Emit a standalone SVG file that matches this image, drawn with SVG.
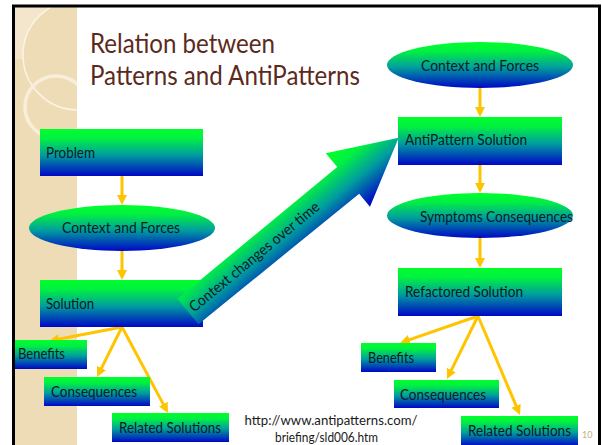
<svg xmlns="http://www.w3.org/2000/svg" width="602" height="445" viewBox="0 0 602 445">
<defs>
<style>
.t{font-family:Lato,"Open Sans","DejaVu Sans",sans-serif;font-size:15px;fill:#0B1B22}
.title{font-family:Lato,"Open Sans","DejaVu Sans",sans-serif;font-size:26px;fill:#5B2A1C}
.url{font-family:Lato,"Open Sans","DejaVu Sans",sans-serif;font-size:13.5px;fill:#1A1A1A}
.con{stroke:#FFC400;stroke-width:3;fill:none;marker-end:url(#ah)}
.n{fill:url(#g)}
</style>
<linearGradient id="g" x1="0" y1="0" x2="0" y2="1">
<stop offset="0" stop-color="#00FF2A"/>
<stop offset="0.2" stop-color="#00F042"/>
<stop offset="0.55" stop-color="#009E9E"/>
<stop offset="1" stop-color="#0006C6"/>
</linearGradient>
<linearGradient id="ga" gradientUnits="userSpaceOnUse" x1="0" y1="-30" x2="0" y2="33">
<stop offset="0" stop-color="#00FF2A"/>
<stop offset="0.2" stop-color="#00F042"/>
<stop offset="0.55" stop-color="#009E9E"/>
<stop offset="1" stop-color="#0006C6"/>
</linearGradient>
<marker id="ah" viewBox="0 0 10 10" refX="2" refY="5" markerWidth="10" markerHeight="10" markerUnits="userSpaceOnUse" orient="auto">
<path d="M0,0 L10,5 L0,10 z" fill="#FFC400"/>
</marker>
<clipPath id="side"><rect x="15" y="7" width="62" height="438"/></clipPath>
</defs>
<rect width="602" height="445" fill="#FFFFFF"/>
<g id="sidebar" clip-path="url(#side)">
<rect x="15" y="7" width="62" height="438" fill="#EEDCB6"/>
<rect x="15" y="7" width="62" height="52" fill="#F3E6CC"/>
<circle cx="78" cy="55" r="55" fill="#EEDCB6"/>
<circle cx="78" cy="55" r="55" fill="none" stroke="#FBF4E4" stroke-width="1.5"/>
<circle cx="56" cy="107" r="31" fill="none" stroke="#F8EEDB" stroke-width="3.5"/>
</g>
<rect x="13.5" y="6" width="586" height="445" fill="none" stroke="#000000" stroke-width="3"/>
<g id="title">
<text class="title" x="90" y="53" textLength="185" lengthAdjust="spacingAndGlyphs">Relation between</text>
<text class="title" x="90" y="85" textLength="270" lengthAdjust="spacingAndGlyphs">Patterns and AntiPatterns</text>
</g>
<g id="connectors">
<line class="con" x1="122" y1="176" x2="122" y2="197"/>
<line class="con" x1="122" y1="251" x2="122" y2="272"/>
<line class="con" x1="122" y1="327" x2="56.9" y2="339.5"/>
<line class="con" x1="122" y1="327" x2="100.6" y2="369.8"/>
<line class="con" x1="122" y1="327" x2="164.2" y2="405.9"/>
<line class="con" x1="480" y1="88" x2="480" y2="109"/>
<line class="con" x1="480" y1="165" x2="480" y2="185"/>
<line class="con" x1="480" y1="238" x2="480" y2="260"/>
<line class="con" x1="478" y1="316" x2="407.6" y2="340.4"/>
<line class="con" x1="478" y1="316" x2="450.5" y2="371.8"/>
<line class="con" x1="478" y1="316" x2="516.9" y2="407.6"/>
</g>
<g id="problem"><rect class="n" x="40" y="129" width="163" height="47"/><text class="t" x="46" y="158" textLength="49" lengthAdjust="spacingAndGlyphs">Problem</text></g>
<g id="context-left"><ellipse class="n" cx="122" cy="228" rx="93" ry="23"/><text class="t" x="62" y="233" textLength="118" lengthAdjust="spacingAndGlyphs">Context and Forces</text></g>
<g id="solution"><rect class="n" x="40" y="280" width="163" height="47"/><text class="t" x="46" y="309" textLength="48" lengthAdjust="spacingAndGlyphs">Solution</text></g>
<g id="benefits-left"><rect class="n" x="15" y="340" width="72" height="29"/><text class="t" x="18" y="359" textLength="47" lengthAdjust="spacingAndGlyphs">Benefits</text></g>
<g id="consequences-left"><rect class="n" x="44" y="377" width="106" height="29"/><text class="t" x="51" y="397" textLength="86" lengthAdjust="spacingAndGlyphs">Consequences</text></g>
<g id="related-left"><rect class="n" x="112" y="413" width="117" height="29"/><text class="t" x="119" y="433" textLength="102" lengthAdjust="spacingAndGlyphs">Related Solutions</text></g>
<g id="context-right"><ellipse class="n" cx="480" cy="65" rx="93" ry="23"/><text class="t" x="421" y="71" textLength="118" lengthAdjust="spacingAndGlyphs">Context and Forces</text></g>
<g id="antipattern-solution"><rect class="n" x="398" y="117" width="164" height="48"/><text class="t" x="405" y="145" textLength="122" lengthAdjust="spacingAndGlyphs">AntiPattern Solution</text></g>
<g id="symptoms"><ellipse class="n" cx="480" cy="215.5" rx="93" ry="22.5"/><text class="t" x="420" y="222" textLength="153" lengthAdjust="spacingAndGlyphs">Symptoms Consequences</text></g>
<g id="refactored"><rect class="n" x="398" y="268" width="164" height="48"/><text class="t" x="405" y="297" textLength="118" lengthAdjust="spacingAndGlyphs">Refactored Solution</text></g>
<g id="benefits-right"><rect class="n" x="361" y="343" width="75" height="29"/><text class="t" x="368" y="363" textLength="46" lengthAdjust="spacingAndGlyphs">Benefits</text></g>
<g id="consequences-right"><rect class="n" x="394" y="380" width="105" height="28"/><text class="t" x="400" y="400" textLength="86" lengthAdjust="spacingAndGlyphs">Consequences</text></g>
<g id="related-right"><rect class="n" x="461" y="416" width="117" height="30"/><text class="t" x="468" y="436" textLength="103" lengthAdjust="spacingAndGlyphs">Related Solutions</text></g>
<g id="context-changes" transform="translate(188,311.5) rotate(-39.5)">
<path d="M0,-16.5 L207,-16.5 L207,-34.5 L273,0 L207,35 L207,18 L0,16.5 Z" fill="url(#ga)"/>
<text class="t" x="4" y="5" textLength="164" lengthAdjust="spacingAndGlyphs">Context changes over time</text>
</g>
<g id="source">
<text class="url" x="331" y="425" text-anchor="middle" textLength="173" lengthAdjust="spacingAndGlyphs">http://www.antipatterns.com/</text>
<text class="url" x="326.5" y="442" text-anchor="middle" textLength="103" lengthAdjust="spacingAndGlyphs">briefing/sld006.htm</text>
</g>
<text x="582" y="438" font-family="Lato,'Open Sans',sans-serif" font-size="9" fill="#C4AE86">10</text>
</svg>
